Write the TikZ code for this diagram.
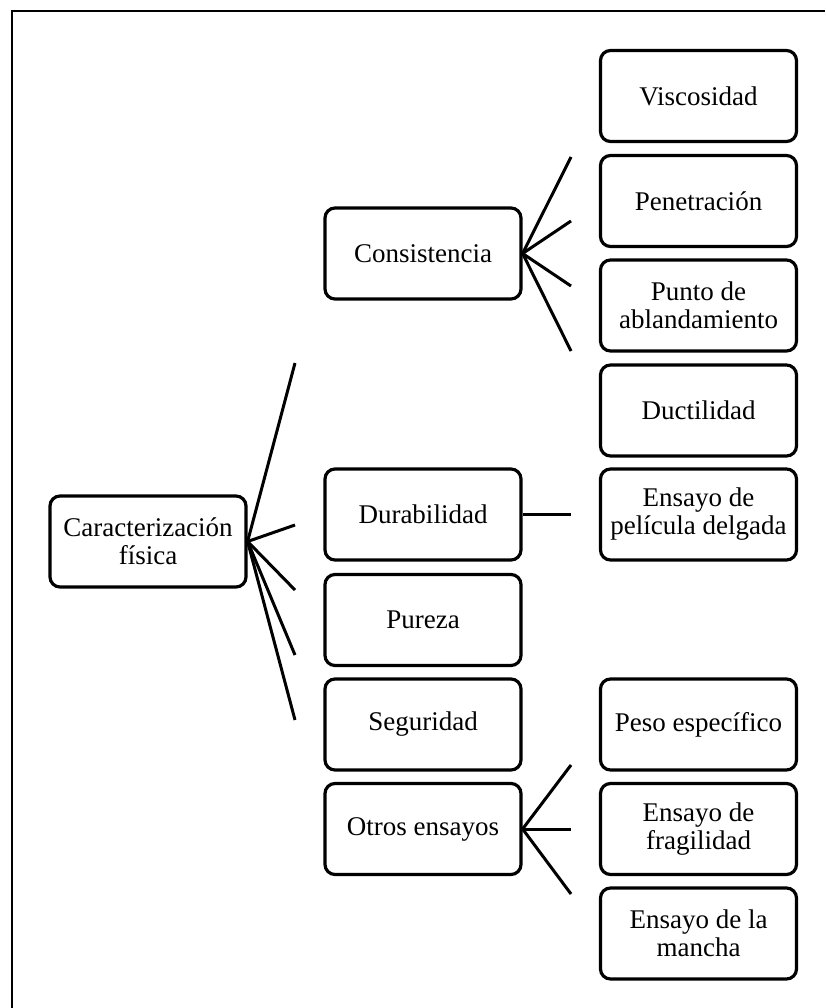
\documentclass[tikz,border=0pt]{standalone}
\usepackage{fontspec}
\setmainfont{Liberation Serif}
\usepackage{tikz}
\usetikzlibrary{positioning}

\begin{document}
\begin{tikzpicture}[x=1pt, y=-1pt]

\tikzset
  {
    myBox/.style=  {draw, line width=3.2pt, rounded corners=10pt, align=center,
                    minimum width=196pt, minimum height=91pt, inner sep=2pt,
                    font=\fontsize{27}{28}\selectfont},
    myLine/.style= {line width=3pt}
  }

\useasboundingbox (0,0) rectangle (825,1008);

% frame
\draw[line width=2.2pt] (12,1008)--(12,11)--(825,11);

% left and middle column
{
\node[myBox] (caract) at (148,541.5) {Caracterización\\física};

\node[myBox] (consist) at (423,253.5) {Consistencia};
\node[myBox] (durab) at (423,514.5) {Durabilidad};
\node[myBox] (pureza) at (423,620) {Pureza};
\node[myBox] (segur) at (423,724.5) {Seguridad};
\node[myBox] (otros) at (423,829) {Otros ensayos};
}

% right column
{
\node[myBox] (visc) at (698.5,96) {Viscosidad};
\node[myBox] (penet) at (698.5,201) {Penetración};
\node[myBox] (punto) at (698.5,305.5) {Punto de\\ablandamiento};
\node[myBox] (ductil) at (698.5,410.5) {Ductilidad};
\node[myBox] (pelicula) at (698.5,514.5) {Ensayo de\\película delgada};

\node[myBox] (peso) at (698.5,724.5) {Peso específico};
\node[myBox] (fragil) at (698.5,829) {Ensayo de\\fragilidad};
\node[myBox] (mancha) at (698.5,933.5) {Ensayo de la\\mancha};
}

% connector ends
\coordinate (r1) at (295,363);
\coordinate (r2) at (295,525);
\coordinate (r3) at (295,590);
\coordinate (r4) at (295,655);
\coordinate (r5) at (295,720);

\coordinate (c1) at (571,157);
\coordinate (c2) at (571,221);
\coordinate (c3) at (571,286);
\coordinate (c4) at (571,351);

\coordinate (d1) at (571,514.5);

\coordinate (o1) at (571,765);
\coordinate (o2) at (571,829);
\coordinate (o3) at (571,894);

% connectors
\foreach \p in {r1,r2,r3,r4,r5}
\draw[myLine] (caract.east)--(\p);

\foreach \p in {c1,c2,c3,c4}
\draw[myLine] (consist.east)--(\p);

\draw[myLine] (durab.east)--(d1);

\foreach \p in {o1,o2,o3}
\draw[myLine] (otros.east)--(\p);

\end{tikzpicture}
\end{document}
